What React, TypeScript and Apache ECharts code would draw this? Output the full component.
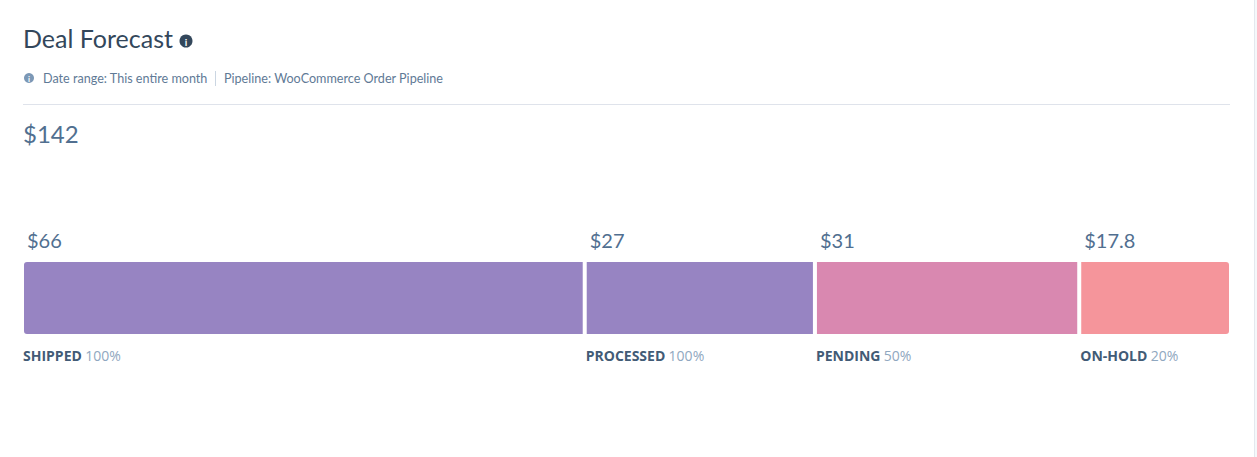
import { useEffect, useRef } from 'react';
import * as echarts from 'echarts';

const stages = ['SHIPPED', 'PROCESSED', 'PENDING', 'ON-HOLD'];
const amounts = [66, 27, 31, 17.8];
const probabilities = [100, 100, 50, 20];
const stageColors = ['#9784c2', '#9784c2', '#d988b0', '#f5959b'];

const title = 'Deal Forecast';
const dateRange = 'Date range: This entire month';
const pipeline = 'Pipeline: WooCommerce Order Pipeline';

const FONT = 'Lato, "Open Sans", sans-serif';
const LABEL_FONT = '"Open Sans", Lato, sans-serif';

export default function App() {
  const chartRef = useRef<HTMLDivElement>(null);

  useEffect(() => {
    if (!chartRef.current) return;
    const chart = echarts.init(chartRef.current, null, { renderer: 'svg' });

    const total = amounts.reduce((a, b) => a + b, 0);
    const last = amounts.length - 1;

    const valueSeries = amounts.map((v, i) => ({
      name: stages[i],
      type: 'bar',
      stack: 'amount',
      barWidth: 76,
      data: [v],
      itemStyle: {
        color: stageColors[i],
        borderColor: '#ffffff',
        borderWidth: 2,
        borderRadius: i === 0 ? [4, 0, 0, 4] : i === last ? [0, 4, 4, 0] : 0,
      },
      label: {
        show: true,
        position: [5, -20],
        align: 'left',
        verticalAlign: 'middle',
        formatter: () => '$' + v,
        fontFamily: FONT,
        fontSize: 20,
        color: '#516f90',
      },
      silent: true,
    }));

    const nameSeries = amounts.map((v, i) => ({
      name: stages[i] + '-name',
      type: 'bar',
      stack: 'names',
      barWidth: 76,
      barGap: '-100%',
      data: [v],
      itemStyle: { color: 'transparent' },
      label: {
        show: true,
        position: [1, 95],
        align: 'left',
        verticalAlign: 'middle',
        formatter: () => `{n|${stages[i]}} {p|${probabilities[i]}%}`,
        rich: {
          n: { fontFamily: LABEL_FONT, fontSize: 14, fontWeight: 'bold', color: '#425b76' },
          p: { fontFamily: LABEL_FONT, fontSize: 14, color: '#8fa7c0' },
        },
      },
      silent: true,
    }));

    chart.setOption({
      animation: false,
      backgroundColor: '#ffffff',
      grid: { left: 22, right: 26, top: 260, height: 76 },
      xAxis: { type: 'value', max: total, show: false },
      yAxis: { type: 'category', data: ['forecast'], show: false },
      graphic: [
        {
          type: 'text',
          x: 23,
          y: 38,
          style: { text: title, fill: '#33475b', font: `25px ${FONT}`, textVerticalAlign: 'middle' },
        },
        { type: 'circle', shape: { cx: 186, cy: 41, r: 6.5 }, style: { fill: '#33475b' } },
        {
          type: 'text',
          x: 186,
          y: 41.5,
          style: { text: 'i', fill: '#ffffff', font: `bold 10px ${FONT}`, textAlign: 'center', textVerticalAlign: 'middle' },
        },
        { type: 'circle', shape: { cx: 29, cy: 78, r: 5 }, style: { fill: '#7c98b6' } },
        {
          type: 'text',
          x: 29,
          y: 78.5,
          style: { text: 'i', fill: '#ffffff', font: `bold 8px ${FONT}`, textAlign: 'center', textVerticalAlign: 'middle' },
        },
        {
          type: 'text',
          x: 43,
          y: 78,
          style: { text: dateRange, fill: '#5f7a96', font: `12.6px ${FONT}`, textVerticalAlign: 'middle' },
        },
        {
          type: 'line',
          shape: { x1: 215.5, y1: 71, x2: 215.5, y2: 86 },
          style: { stroke: '#cbd6e2', lineWidth: 1 },
        },
        {
          type: 'text',
          x: 224,
          y: 78,
          style: { text: pipeline, fill: '#5f7a96', font: `12.6px ${FONT}`, textVerticalAlign: 'middle' },
        },
        {
          type: 'line',
          shape: { x1: 23, y1: 104.5, x2: 1230, y2: 104.5 },
          style: { stroke: '#dfe3eb', lineWidth: 1 },
        },
        {
          type: 'text',
          x: 23,
          y: 133,
          style: { text: '$' + Math.round(total), fill: '#516f90', font: `24px ${FONT}`, textVerticalAlign: 'middle' },
        },
        { type: 'rect', shape: { x: 1254, y: 0, width: 3, height: 457 }, style: { fill: '#f5f8fa' } },
        {
          type: 'line',
          shape: { x1: 1254.5, y1: 0, x2: 1254.5, y2: 457 },
          style: { stroke: '#e3e8ee', lineWidth: 1 },
        },
      ],
      series: [...valueSeries, ...nameSeries],
    });

    return () => {
      chart.dispose();
    };
  }, []);

  return (
    <div
      ref={chartRef}
      style={{ position: 'fixed', left: 0, top: 0, width: 1257, height: 457 }}
    />
  );
}
